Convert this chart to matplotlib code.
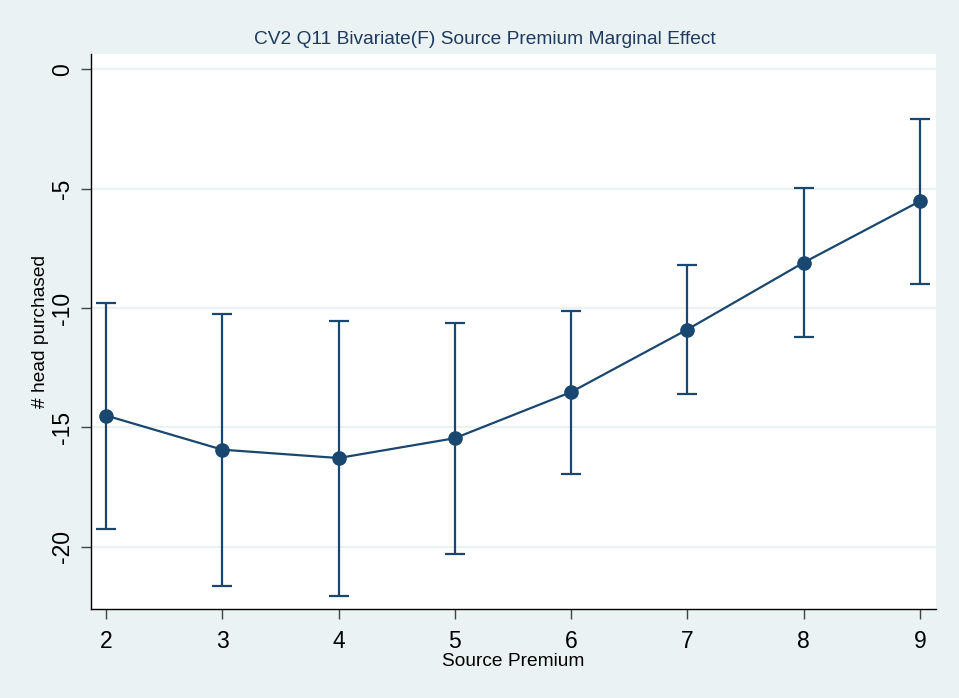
import matplotlib.pyplot as plt
import numpy as np

plt.rcParams['font.family'] = ['Liberation Sans', 'DejaVu Sans']

# marginal effects of source premium with 95% CI
premium = [2, 3, 4, 5, 6, 7, 8, 9]
effect = [-14.50, -15.93, -16.28, -15.45, -13.52, -10.90, -8.10, -5.53]
ci_low = [-19.24, -21.63, -22.05, -20.29, -16.94, -13.62, -11.23, -9.01]
ci_high = [-9.77, -10.23, -10.53, -10.62, -10.12, -8.20, -4.97, -2.07]
yticks = [0, -5, -10, -15, -20]

navy = '#1A476F'
bg = '#EAF2F3'

fig = plt.figure(figsize=(9.59, 6.98), dpi=100, facecolor=bg)
ax = fig.add_axes([0.0949, 0.1275, 0.881, 0.795])
ax.set_facecolor('white')

effect = np.array(effect)
yerr = np.vstack([effect - np.array(ci_low), np.array(ci_high) - effect])
ax.errorbar(premium, effect, yerr=yerr, color=navy, lw=1.6, marker='o',
            ms=9.5, elinewidth=1.6, capsize=7, capthick=1.6, zorder=3)

ax.set_xlim(1.871, 9.138)
ax.set_ylim(-22.6, 0.63)
ax.set_xticks(premium)
ax.set_yticks(yticks)
ax.set_yticklabels([str(t) for t in yticks], rotation=90, va='center')
ax.grid(axis='y', color=bg, lw=1.6)
ax.set_axisbelow(True)

for side in ('top', 'right'):
    ax.spines[side].set_visible(False)
for side in ('left', 'bottom'):
    ax.spines[side].set_linewidth(1.0)
ax.tick_params(axis='both', direction='out', length=7, width=1.0,
               color='#444444', labelsize=16.5)
ax.tick_params(axis='x', pad=8)
ax.tick_params(axis='y', pad=5)

ax.set_xlabel('Source Premium', fontsize=13.8, labelpad=0)
ax.set_ylabel('# head purchased', fontsize=13.8, labelpad=2)
fig.text(0.506, 0.943, 'CV2 Q11 Bivariate(F) Source Premium Marginal Effect',
         ha='center', va='center', fontsize=13.8, color='#1E3A5F')

fig.savefig('out.png', dpi=100, facecolor=bg)
